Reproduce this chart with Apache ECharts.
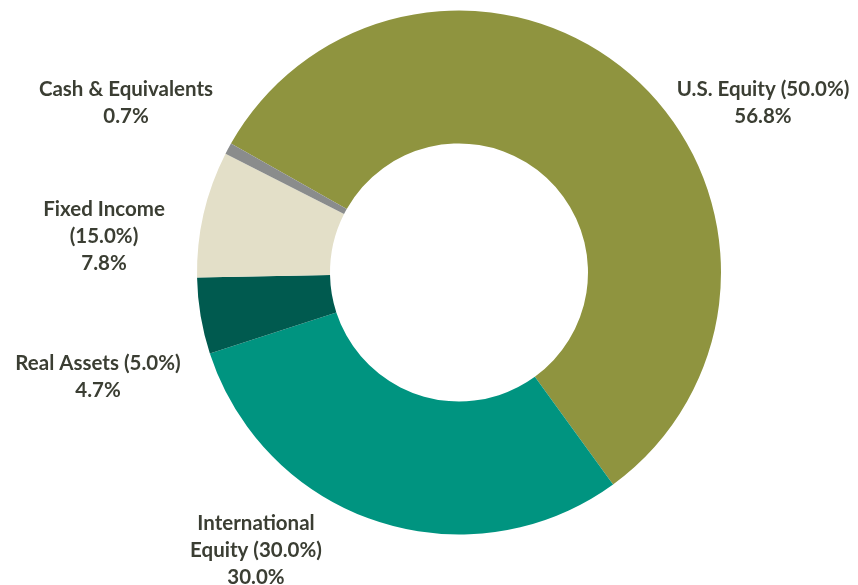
<!DOCTYPE html>
<html>
<head>
<meta charset="utf-8">
<script src="https://cdn.jsdelivr.net/npm/echarts@6/dist/echarts.min.js"></script>
<style>
  html, body { margin: 0; padding: 0; background: #fff; }
  #main { width: 858px; height: 585px; }
</style>
</head>
<body>
<div id="main"></div>
<script>
// slices, clockwise from the upper left
var names = ['U.S. Equity (50.0%)', 'International\nEquity (30.0%)', 'Real Assets (5.0%)', 'Fixed Income\n(15.0%)', 'Cash & Equivalents'];
var values = [56.8, 30.0, 4.7, 7.8, 0.7];
var colors = ['#8f943f', '#009480', '#005a4f', '#e3dfc8', '#8a8c8c'];

// where each label sits (center of text block)
var labelPos = [[763, 103], [256, 550], [98, 377], [104, 236], [126, 103]];

var myChart = echarts.init(document.getElementById('main'));
var pieData = [];
for (var i = 0; i < values.length; i++) {
    pieData.push({ name: names[i], value: values[i], itemStyle: { color: colors[i] } });
}

var option = {
    animation: false,
    series: [{
        type: 'pie',
        center: [459, 272.5],
        radius: [129, 262],
        startAngle: 150.5,
        clockwise: true,
        data: pieData,
        label: {
            show: true,
            position: 'outside',
            formatter: function (p) { return p.name + '\n' + p.value.toFixed(1) + '%'; },
            fontFamily: 'Lato',
            fontWeight: 'bold',
            fontSize: 20.5,
            lineHeight: 27,
            color: '#3b3e33',
            align: 'center',
            overflow: 'none',
            width: 300
        },
        labelLine: { show: false },
        labelLayout: function (params) {
            var p = labelPos[params.dataIndex];
            return { x: p[0], y: p[1], align: 'center', verticalAlign: 'middle' };
        },
        emphasis: { disabled: true }
    }]
};
myChart.setOption(option);
</script>
</body>
</html>
